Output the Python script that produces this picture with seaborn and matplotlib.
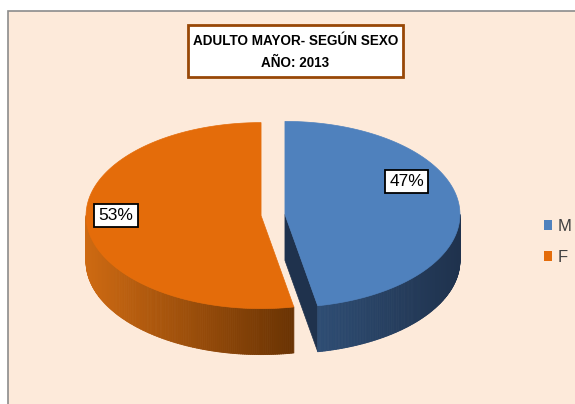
import numpy as np
import matplotlib.pyplot as plt
import seaborn as sns
from matplotlib.patches import Polygon, Rectangle, Patch
from matplotlib.collections import PolyCollection
from matplotlib.colors import to_rgb

# datos
labels = ["M", "F"]
shares = [47, 53]
title_lines = ["ADULTO MAYOR- SEGÚN SEXO", "AÑO: 2013"]

sns.set_theme(style="white")
plt.rcParams['font.family'] = ['Liberation Sans Narrow', 'Liberation Sans', 'DejaVu Sans']

top_colors = sns.color_palette(["#4F81BD", "#E46C0A"])
wall_colors = [("#2E4D74", "#1F324D"), ("#CE6A12", "#6A3303")]
side_color = "#1F324D"
bg_color = "#FDEADA"

W, H = 575, 404
fig = plt.figure(figsize=(W / 100, H / 100), dpi=100)
fig.patch.set_facecolor("white")
ax = fig.add_axes([0, 0, 1, 1])
ax.set_xlim(0, W)
ax.set_ylim(H, 0)
ax.axis("off")

# panel de fondo
ax.add_patch(Rectangle((8, 11), 620, 440, facecolor=bg_color, edgecolor="#8C8C8C", lw=1.2))

# geometria del pastel 3D
cx, cy, ra, rb, depth, explode = 273, 215, 175, 93, 46, 12
label_at = [(27, 0.78), (180, 0.83)]


def pt(t, ox, oy, dz=0.0):
    t = np.atleast_1d(t)
    return np.column_stack([cx + ox + ra * np.cos(t), cy + oy - rb * np.sin(t) + dz])


def mix(c1, c2, f):
    a, b = np.array(to_rgb(c1)), np.array(to_rgb(c2))
    return tuple(a + (b - a) * f)


start = 90.0
slices = []
for i, s in enumerate(shares):
    hi = start
    lo = start - s * 3.6
    start = lo
    mid = np.radians((hi + lo) / 2)
    ox = explode * np.cos(mid)
    oy = -explode * np.sin(mid) * rb / ra
    slices.append((i, np.radians(lo), np.radians(hi), ox, oy))

# dibujar de izquierda (F) a derecha (M)
for i, lo, hi, ox, oy in sorted(slices, key=lambda s: s[3]):
    center = np.array([[cx + ox, cy + oy]])

    # caras radiales visibles
    for t, visible in ((hi, np.cos(hi) < -1e-6), (lo, np.cos(lo) > 1e-6)):
        if visible:
            p = pt(t, ox, oy)
            face = np.vstack([center, p, p + [0, depth], center + [0, depth]])
            ax.add_patch(Polygon(face, closed=True, facecolor=side_color, edgecolor=side_color, lw=0.5))

    # pared frontal con degradado
    for k in (-1, 0, 1):
        a0 = max(lo, -np.pi + k * 2 * np.pi)
        a1 = min(hi, 0 + k * 2 * np.pi)
        if a1 <= a0:
            continue
        ts = np.linspace(a0, a1, 150)
        top = pt(ts, ox, oy)
        xs = top[:, 0]
        quads, cols = [], []
        for j in range(len(ts) - 1):
            q = np.array([top[j], top[j + 1], top[j + 1] + [0, depth], top[j] + [0, depth]])
            quads.append(q)
            f = ((xs[j] + xs[j + 1]) / 2 - xs.min()) / (xs.max() - xs.min())
            cols.append(mix(wall_colors[i][0], wall_colors[i][1], f))
        ax.add_collection(PolyCollection(quads, facecolors=cols, edgecolors=cols, linewidths=0.6))

    # cara superior
    ts = np.linspace(hi, lo, 200)
    topface = np.vstack([center, pt(ts, ox, oy)])
    ax.add_patch(Polygon(topface, closed=True, facecolor=top_colors[i], edgecolor=top_colors[i], lw=0.5))

    # etiqueta de porcentaje
    ang, r = label_at[i]
    lx = cx + ox + r * ra * np.cos(np.radians(ang))
    ly = cy + oy - r * rb * np.sin(np.radians(ang))
    ax.text(lx, ly, f"{shares[i]}%", ha="center", va="center", fontsize=12.5, color="black",
            bbox=dict(boxstyle="square,pad=0.25", facecolor="white", edgecolor="black", lw=1.3))

# titulo en recuadro
ax.add_patch(Rectangle((188, 25), 215, 52, facecolor="white", edgecolor="#984807", lw=2))
t1 = ax.text(295.5, 41, title_lines[0], ha="center", va="center", fontsize=12, fontweight="bold", color="black")
t2 = ax.text(295.5, 63, title_lines[1], ha="center", va="center", fontsize=12, fontweight="bold", color="black")
fig.canvas.draw()
w = t1.get_window_extent().width
fs = 12 * 205 / w
t1.set_fontsize(fs)
t2.set_fontsize(fs)

# leyenda
handles = [Patch(facecolor=top_colors[i], edgecolor="none", label=labels[i]) for i in range(len(labels))]
ax.legend(handles=handles, loc="center left", bbox_to_anchor=(544 / W, 1 - 242 / H),
          frameon=False, fontsize=12, handlelength=0.5, handleheight=0.5,
          handletextpad=0.3, labelspacing=0.95, labelcolor="#404040",
          borderaxespad=0, borderpad=0)

fig.savefig("out.png", dpi=100, facecolor=fig.get_facecolor())
